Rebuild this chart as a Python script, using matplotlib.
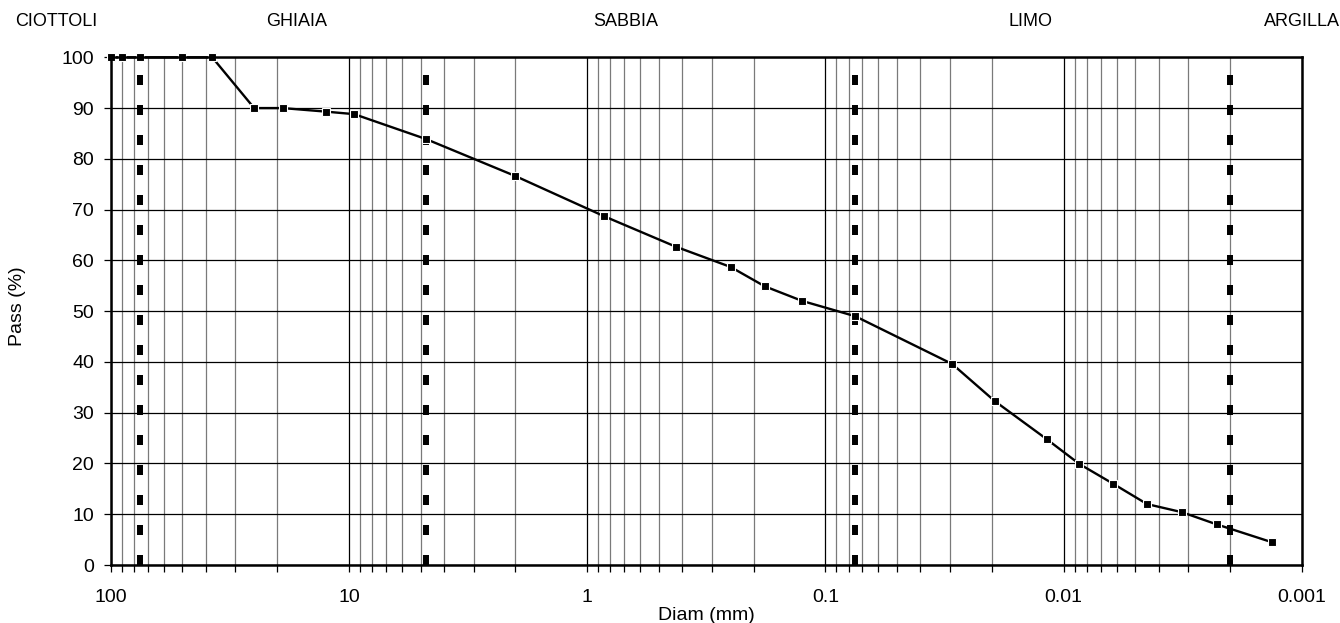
import matplotlib
matplotlib.use("Agg")
import matplotlib.pyplot as plt
from matplotlib.ticker import FixedLocator, NullFormatter

# =========================
# DATA
# =========================

diam_mm = [100, 90, 75, 50, 37.5, 25, 19, 12.5, 9.5, 4.75, 2, 0.85, 0.425,
           0.25, 0.18, 0.125, 0.075, 0.0294, 0.0195, 0.0118, 0.0086, 0.0062,
           0.00447, 0.00319, 0.00228, 0.00134]
passing = [100, 100, 100, 100, 100, 90.0, 90.0, 89.3, 88.8, 83.9, 76.6, 68.7,
           62.7, 58.7, 54.9, 52.0, 49.0, 39.6, 32.3, 24.8, 19.9, 16.0, 12.0,
           10.4, 8.0, 4.5]

# class limits (mm)
limits = [75, 4.75, 0.075, 0.002]

# class names along the top
classes = ["CIOTTOLI", "GHIAIA", "SABBIA", "LIMO", "ARGILLA"]
class_x = [56, 297, 626, 1031, 1302]   # pixel centres

x_ticks = [100, 10, 1, 0.1, 0.01, 0.001]
x_labels = ["100", "10", "1", "0.1", "0.01", "0.001"]
y_ticks = list(range(0, 101, 10))

# =========================
# STYLE
# =========================

plt.rcParams["font.family"] = ["Liberation Sans", "DejaVu Sans"]
plt.rcParams["lines.scale_dashes"] = False

W, H = 1340, 623
fig = plt.figure(figsize=(W / 100, H / 100), dpi=100)
ax = fig.add_axes([110.7 / W, 1 - 565 / H, (1302 - 110.7) / W, (565 - 57.3) / H])

ax.set_xscale("log")
ax.set_xlim(100, 0.001)
ax.set_ylim(0, 100)

# grid
minor = [m * 10.0 ** e for e in range(-3, 2) for m in range(2, 10)]
for v in minor:
    ax.axvline(v, color="#7a7a7a", lw=0.9, zorder=1)
for v in x_ticks:
    ax.axvline(v, color="black", lw=0.9, zorder=1)
for v in y_ticks:
    ax.axhline(v, color="black", lw=0.9, zorder=1)

# class limits
for v in limits:
    ax.plot([v, v], [0, 100], color="black", lw=4.3,
            dashes=(7.2, 14.4), solid_capstyle="butt",
            dash_capstyle="butt", zorder=2)

# grading curve
ax.plot(diam_mm, passing, color="black", lw=1.7, marker="s",
        markersize=6.2, markerfacecolor="black", markeredgecolor="white",
        markeredgewidth=0.8, zorder=4, clip_on=False)

# ticks
ax.xaxis.set_major_locator(FixedLocator(x_ticks))
ax.set_xticklabels(x_labels)
ax.xaxis.set_minor_locator(FixedLocator(minor))
ax.xaxis.set_minor_formatter(NullFormatter())
ax.set_yticks(y_ticks)

ax.tick_params(axis="x", which="both", direction="out", length=5,
               width=0.9, pad=12, labelsize=14)
ax.tick_params(axis="y", direction="out", length=5, width=0.9,
               pad=7, labelsize=14)

for s in ax.spines.values():
    s.set_linewidth(1.8)
    s.set_zorder(5)

ax.set_xlabel("Diam (mm)", fontsize=14, labelpad=1)
fig.text(18 / W, 1 - 306 / H, "Pass (%)", rotation=90, ha="center",
         va="center", fontsize=14)

for name, px in zip(classes, class_x):
    fig.text(px / W, 1 - 22 / H, name, ha="center", va="center", fontsize=13)

fig.savefig("out.png", dpi=100)
